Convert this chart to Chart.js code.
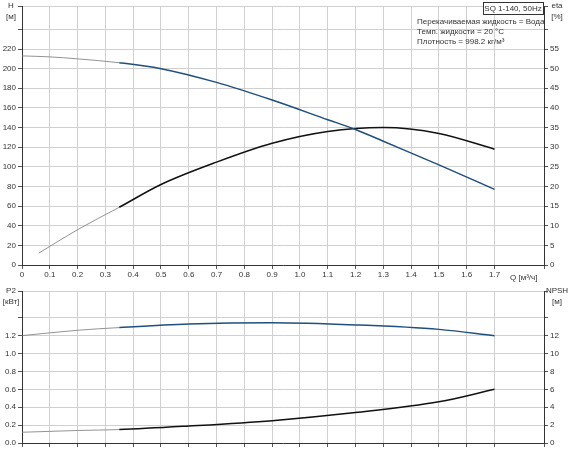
<!DOCTYPE html>
<html><head><meta charset="utf-8">
<script src="https://cdn.jsdelivr.net/npm/chart.js@4"></script>
<style>
body{margin:0;background:#fff;width:570px;height:450px;overflow:hidden}
#top{position:absolute;left:0;top:0}
#bot{position:absolute;left:0;top:285px}
</style></head><body>
<div id="top" style="width:570px;height:285px"><canvas id="graficoH"></canvas></div>
<div id="bot" style="width:570px;height:165px"><canvas id="graficoP"></canvas></div>
<script>
const qH = [0, 0.1, 0.2, 0.35, 0.5, 0.7, 0.9, 1.1, 1.2, 1.3, 1.5, 1.7];
const valH = [213, 212, 210, 206, 200, 186, 168, 148, 138, 126, 102, 77];
const qEta = [0.06, 0.2, 0.35, 0.5, 0.7, 0.9, 1.1, 1.3, 1.5, 1.7];
const valEta = [3, 9, 14.7, 20.5, 26.2, 31, 34, 35, 33.5, 29.5];
const qP = [0, 0.2, 0.35, 0.6, 0.9, 1.2, 1.5, 1.7];
const valP2 = [1.20, 1.26, 1.29, 1.33, 1.345, 1.32, 1.27, 1.20];
const valNpsh = [1.2, 1.4, 1.5, 1.9, 2.5, 3.4, 4.6, 6.0];

Chart.defaults.font.family = 'Arial, "Liberation Sans", sans-serif';
Chart.defaults.font.size = 8;
Chart.defaults.color = '#333';
Chart.defaults.animation = false;

const pts = (xs, ys) => xs.map((x, i) => ({x: x, y: ys[i]}));
const thin = ctx => ctx.p0.parsed.x < 0.34 ? 0.8 : 1.5;
const thinCol = (c) => ctx => ctx.p0.parsed.x < 0.34 ? '#777' : c;

function serie(data, color, axis){
    return {data: data, yAxisID: axis, borderColor: color, pointRadius: 0,
        showLine: true, cubicInterpolationMode: 'monotone', fill: false,
        segment: {borderWidth: thin, borderColor: thinCol(color)}};
}
function fitW(w){ return s => { s.width = w; }; }
function fitH(h){ return s => { s.height = h; }; }

const textos = {
    id: 'textos',
    afterDraw(c, args, o){
        const ctx = c.ctx;
        ctx.save();
        ctx.font = '8px Arial, "Liberation Sans", sans-serif';
        ctx.fillStyle = '#333';
        ctx.textAlign = 'center';
        o.left.forEach((t, i) => ctx.fillText(t, 11, 8 + i * 11));
        o.right.forEach((t, i) => ctx.fillText(t, 557, 8 + i * 11));
        if (o.box){
            ctx.strokeStyle = '#333';
            ctx.lineWidth = 1;
            ctx.fillStyle = '#fff';
            ctx.fillRect(483.5, 2.5, 60, 12);
            ctx.strokeRect(483.5, 2.5, 60, 12);
            ctx.fillStyle = '#333';
            ctx.fillText('SQ 1-140, 50Hz', 513, 11);
            ctx.textAlign = 'left';
            ctx.fillText('Перекачиваемая жидкость = Вода', 417, 24);
            ctx.fillText('Темп. жидкости = 20 °C', 417, 34);
            ctx.fillText('Плотность = 998.2 кг/м³', 417, 44);
        }
        if (o.q){
            ctx.textAlign = 'left';
            ctx.fillText('Q [м³/ч]', 510, 280);
        }
        ctx.restore();
    }
};

const grid = {color: '#d0d0d0', tickColor: '#555', tickLength: 4};

new Chart(document.getElementById('graficoH'), {
    type: 'scatter',
    data: {datasets: [serie(pts(qH, valH), '#1f4f7f', 'y'), serie(pts(qEta, valEta), '#111', 'y1')]},
    options: {
        responsive: true, maintainAspectRatio: false,
        layout: {padding: {top: 2, left: 0, right: 0, bottom: 0}},
        plugins: {legend: {display: false}, tooltip: {enabled: false},
            textos: {left: ['H', '[м]'], right: ['eta', '[%]'], box: true, q: true}},
        scales: {
            x: {type: 'linear', min: 0, max: 1.878, afterFit: fitH(20), grid: grid,
                border: {color: '#333'},
                ticks: {stepSize: 0.1, maxRotation: 0, padding: 1, autoSkip: false,
                    callback: v => v > 1.71 ? '' : (v === 0 ? '0' : v.toFixed(1))}},
            y: {min: 0, max: 263, position: 'left', afterFit: fitW(22), grid: grid,
                border: {color: '#333'},
                ticks: {stepSize: 20, padding: 2, callback: v => v > 220 ? '' : v}},
            y1: {min: 0, max: 65.75, position: 'right', afterFit: fitW(26),
                grid: {drawOnChartArea: false, tickColor: '#555', tickLength: 4},
                border: {color: '#333'},
                ticks: {stepSize: 5, padding: 2, callback: v => v > 55 ? '' : v}}
        }
    },
    plugins: [textos]
});

new Chart(document.getElementById('graficoP'), {
    type: 'scatter',
    data: {datasets: [serie(pts(qP, valP2), '#1f4f7f', 'y'), serie(pts(qP, valNpsh), '#111', 'y1')]},
    options: {
        responsive: true, maintainAspectRatio: false,
        layout: {padding: 0},
        plugins: {legend: {display: false}, tooltip: {enabled: false},
            textos: {left: ['P2', '[кВт]'], right: ['NPSH', '[м]']}},
        scales: {
            x: {type: 'linear', min: 0, max: 1.878, afterFit: fitH(7), grid: grid,
                border: {color: '#333'},
                ticks: {stepSize: 0.1, display: false}},
            y: {min: 0, max: 1.69, position: 'left', afterFit: fitW(22), grid: grid,
                border: {color: '#333'},
                ticks: {stepSize: 0.2, padding: 2, callback: v => v > 1.21 ? '' : v.toFixed(1)}},
            y1: {min: 0, max: 16.9, position: 'right', afterFit: fitW(26),
                grid: {drawOnChartArea: false, tickColor: '#555', tickLength: 4},
                border: {color: '#333'},
                ticks: {stepSize: 2, padding: 2, callback: v => v > 12.1 ? '' : v}}
        }
    },
    plugins: [textos]
});
</script>
</body></html>
